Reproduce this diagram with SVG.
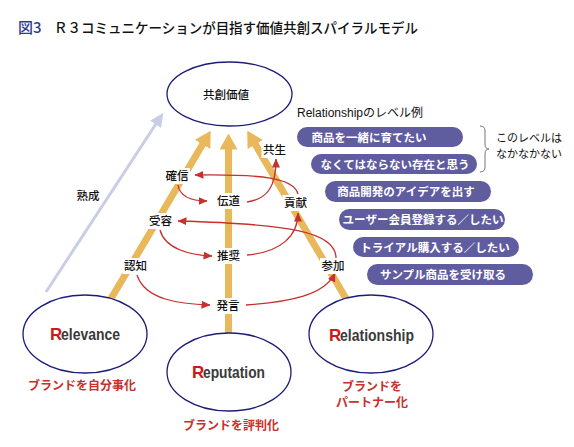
<svg xmlns="http://www.w3.org/2000/svg" width="574" height="447" viewBox="0 0 574 447">
<style>
.jp{font-family:"Noto Sans CJK JP","Liberation Sans",sans-serif;}
.title{font-size:14px;fill:#111;font-weight:500;}
.lbl{font-size:11.5px;fill:#111;text-anchor:middle;font-weight:500;}
.bg{fill:#fff;}
.ell{fill:#fff;stroke:#1c1c78;stroke-width:1.3;}
.rn{font-family:"Liberation Sans Narrow","Liberation Sans",sans-serif;font-weight:bold;font-size:17px;fill:#3a3a3a;}
.rr{fill:#cc1a1a;}
.red{font-size:12px;fill:#c8302c;font-weight:bold;text-anchor:middle;}
.shaft{stroke:#e9b85a;stroke-width:7;fill:none;}
.conn{stroke:#c8302c;stroke-width:1.3;fill:none;marker-end:url(#rh);}
.pill{fill:#5f5c9f;}
.pt{font-size:11.5px;fill:#fff;font-weight:bold;text-anchor:middle;}
</style>
<defs>
<marker id="yh" markerUnits="userSpaceOnUse" markerWidth="16" markerHeight="18" viewBox="0 0 16 18" refX="0.5" refY="9" orient="auto">
<path d="M0,0 L16,9 L0,18 z" fill="#e9b85a"/>
</marker>
<marker id="bh" markerUnits="userSpaceOnUse" markerWidth="14" markerHeight="13" viewBox="0 0 14 13" refX="0.5" refY="6.5" orient="auto">
<path d="M0,0 L14,6.5 L0,13 z" fill="#c8cde8"/>
</marker>
<marker id="rh" markerUnits="userSpaceOnUse" markerWidth="9" markerHeight="8" viewBox="0 0 9 8" refX="8.5" refY="4" orient="auto">
<path d="M0,0 L9,4 L0,8 z" fill="#c8302c"/>
</marker>
</defs>
<rect width="574" height="447" fill="#fff"/>
<g id="title" class="jp">
<text x="18" y="33" font-size="15" fill="#2b3a92" font-weight="500">図3</text>
<text x="54" y="33" class="title" textLength="364" lengthAdjust="spacingAndGlyphs">Ｒ３コミュニケーションが目指す価値共創スパイラルモデル</text>
</g>
<g id="connectors">
<line class="shaft" x1="109" y1="302" x2="202.8" y2="144" marker-end="url(#yh)"/>
<line class="shaft" x1="228.5" y1="340" x2="228.5" y2="149" marker-end="url(#yh)"/>
<line class="shaft" x1="348" y1="302" x2="255.1" y2="144.1" marker-end="url(#yh)"/>
<line x1="46" y1="292" x2="155.9" y2="124" stroke="#c8cde8" stroke-width="3" marker-end="url(#bh)"/>
<path class="conn" d="M178,185 C180,197 192,201 207,201"/>
<path class="conn" d="M247,202 C268,199 276,186 276,159"/>
<path class="conn" d="M298,194 C294,178 262,174 195,175"/>
<path class="conn" d="M247,255 C282,252 298,235 298,213"/>
<path class="conn" d="M160,230 C165,249 190,255 212,256"/>
<path class="conn" d="M336,258 C336,232 290,224 178,221"/>
<path class="conn" d="M137,275 C145,300 180,304 210,305"/>
<path class="conn" d="M246,305 C290,302 325,295 335,273"/>
</g>
<g id="n-kyoso" class="jp">
<ellipse class="ell" cx="229.5" cy="94" rx="62.5" ry="32"/>
<text x="226" y="98.5" class="lbl" font-size="12">共創価値</text>
</g>
<g id="n-relevance">
<ellipse class="ell" cx="85" cy="334" rx="62" ry="39"/>
<text x="50" y="340" class="rn rr">R</text>
<text x="61" y="340" class="rn" textLength="59" lengthAdjust="spacingAndGlyphs">elevance</text>
<text x="82" y="390" class="jp red">ブランドを自分事化</text>
</g>
<g id="n-reputation">
<ellipse class="ell" cx="229" cy="372" rx="62" ry="39"/>
<text x="192" y="378" class="rn rr">R</text>
<text x="203" y="378" class="rn" textLength="62" lengthAdjust="spacingAndGlyphs">eputation</text>
<text x="231" y="430" class="jp red">ブランドを評判化</text>
</g>
<g id="n-relationship">
<ellipse class="ell" cx="371" cy="334" rx="62" ry="39"/>
<text x="329" y="341" class="rn rr">R</text>
<text x="340" y="341" class="rn" textLength="74" lengthAdjust="spacingAndGlyphs">elationship</text>
<text x="372" y="391" class="jp red">ブランドを</text>
<text x="372" y="407" class="jp red">パートナー化</text>
</g>
<g id="jukusei" class="jp"><text x="88" y="200" class="lbl" font-size="13">熟成</text></g>
<g id="n-kakushin" class="jp"><rect class="bg" x="164" y="168" width="26" height="16"/><text x="177" y="180" class="lbl">確信</text></g>
<g id="n-dendo" class="jp"><rect class="bg" x="215.5" y="193" width="26" height="16"/><text x="228.5" y="205" class="lbl">伝道</text></g>
<g id="n-kyosei" class="jp"><rect class="bg" x="261.5" y="142" width="26" height="16"/><text x="274.5" y="154" class="lbl">共生</text></g>
<g id="n-koken" class="jp"><rect class="bg" x="282.5" y="195" width="26" height="16"/><text x="295.5" y="207" class="lbl">貢献</text></g>
<g id="n-juyo" class="jp"><rect class="bg" x="147.5" y="213" width="26" height="16"/><text x="160.5" y="225" class="lbl">受容</text></g>
<g id="n-suisho" class="jp"><rect class="bg" x="215.5" y="248" width="26" height="16"/><text x="228.5" y="260" class="lbl">推奨</text></g>
<g id="n-ninchi" class="jp"><rect class="bg" x="122.5" y="258" width="26" height="16"/><text x="135.5" y="270" class="lbl">認知</text></g>
<g id="n-sanka" class="jp"><rect class="bg" x="320" y="258" width="26" height="16"/><text x="333" y="270" class="lbl">参加</text></g>
<g id="n-hatsugen" class="jp"><rect class="bg" x="215" y="298" width="26" height="16"/><text x="228" y="310" class="lbl">発言</text></g>
<g id="levels">
<text x="297" y="117" font-family="Liberation Sans, Noto Sans CJK JP, sans-serif" font-size="12" fill="#111">Relationshipのレベル例</text>
<g id="lv1" class="jp"><rect class="pill" x="297" y="127" width="166" height="20" rx="10"/><text x="369" y="141.5" class="pt">商品を一緒に育てたい</text></g>
<g id="lv2" class="jp"><rect class="pill" x="311" y="154" width="166" height="20" rx="10"/><text x="395" y="168.5" class="pt">なくてはならない存在と思う</text></g>
<g id="lv3" class="jp"><rect class="pill" x="325" y="181" width="166" height="21" rx="10.5"/><text x="406" y="196" class="pt">商品開発のアイデアを出す</text></g>
<g id="lv4" class="jp"><rect class="pill" x="339" y="209" width="166" height="21" rx="10.5"/><text x="423" y="224" class="pt">ユーザー会員登録する／したい</text></g>
<g id="lv5" class="jp"><rect class="pill" x="353" y="237" width="166" height="20" rx="10"/><text x="435" y="251.5" class="pt">トライアル購入する／したい</text></g>
<g id="lv6" class="jp"><rect class="pill" x="367" y="264" width="166" height="21" rx="10.5"/><text x="443" y="279" class="pt">サンプル商品を受け取る</text></g>
<path d="M480,126 Q485,126 485,131 L485,144 Q485,149 489,149 Q485,149 485,154 L485,167 Q485,172 480,172" fill="none" stroke="#777" stroke-width="1"/>
<g class="jp" font-size="11" fill="#111">
<text x="496" y="141.5">このレベルは</text>
<text x="496" y="157.5">なかなかない</text>
</g>
</g>
</svg>
